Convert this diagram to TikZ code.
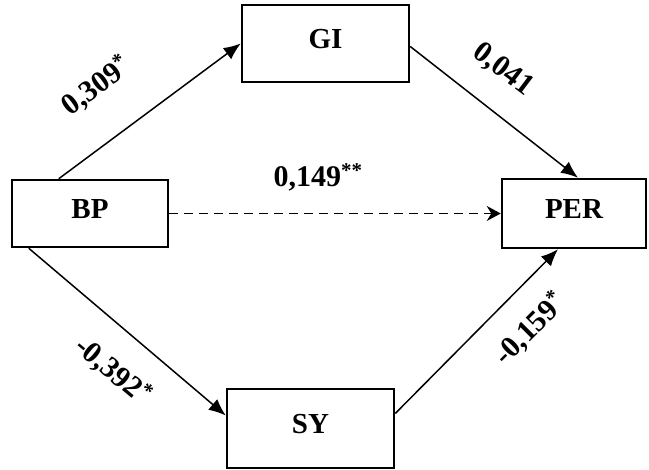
\documentclass[tikz,border=0pt]{standalone}
\usepackage{fontspec}
\setmainfont{Liberation Serif}
\usetikzlibrary{arrows.meta}

\begin{document}
\begin{tikzpicture}[x=1pt, y=-1pt,
					every node/.style={font=\fontsize{29}{34}\selectfont\bfseries},
					box/.style={rectangle, draw=black, line width=2.5pt, text height=20pt, text depth=10pt},
					coef/.style={inner sep=0pt, font=\fontsize{30}{35}\selectfont\bfseries},
					link/.style={line width=1.5pt, -{Latex[length=17pt,width=14pt]}}]
\useasboundingbox (0,0) rectangle (649,470);
\node[box, minimum width=156pt, minimum height=67pt] (bp) at (90,213.5) {BP};
\node[box, minimum width=167pt, minimum height=77pt] (gi) at (325.5,43.5) {GI};
\node[box, minimum width=144pt, minimum height=69pt] (per) at (574,213.5) {PER};
\node[box, minimum width=167pt, minimum height=79pt] (sy) at (310.5,428.5) {SY};

\draw[link] ([xshift=48pt]bp.north west) -- (gi.west);
\draw[link] ([yshift=-3pt]gi.east) -- ([xshift=4pt]per.north);
\draw[link] ([xshift=18pt]bp.south west) -- ([yshift=13pt]sy.west);
\draw[link] ([yshift=15pt]sy.east) -- ([xshift=-16pt]per.south);
\draw[line width=1.5pt, dash pattern=on 9pt off 6pt, -{Stealth[length=14pt,width=15pt]}] (bp.east) -- (per.west);

\node[coef, rotate=37] (bpgi) at (96,86) {0,309\textsuperscript{*}};
\node[coef] (bpper) at (318,177) {0,149\textsuperscript{**}};
\node[coef, rotate=-37] (giper) at (503,70) {0,041};
\node[coef, rotate=-40] (bpsy) at (113,371) {-0,392\textsuperscript{*}};
\node[coef, rotate=45] (syper) at (530,329) {-0,159\textsuperscript{*}};
\end{tikzpicture}
\end{document}
